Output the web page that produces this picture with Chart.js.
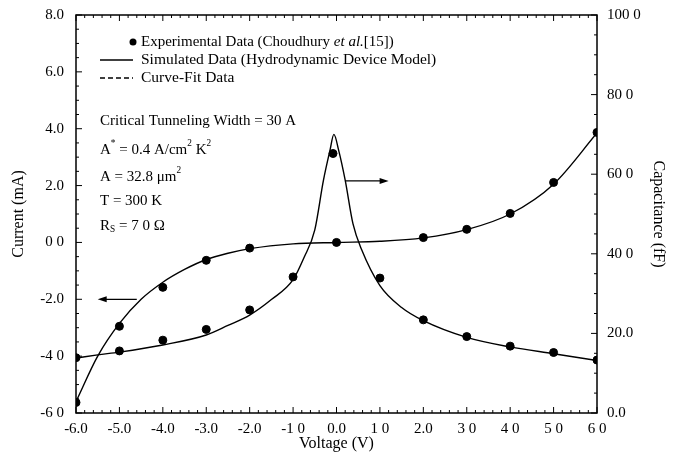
<!DOCTYPE html>
<html>
<head>
<meta charset="utf-8">
<script src="https://cdn.jsdelivr.net/npm/chart.js@4.4.0/dist/chart.umd.min.js"></script>
<style>
  body { margin: 0; background: #fff; }
  canvas { display: block; }
</style>
</head>
<body>
<canvas id="chart" width="674" height="455"></canvas>
<script>
// Experimental data (Choudhury et al.)
const expCurrentV = [-6, -5, -4, -3, -2, 0, 2, 3, 4, 5, 6];
const expCurrent = [-5.63, -2.95, -1.58, -0.63, -0.2, 0.0, 0.17, 0.46, 1.02, 2.11, 3.87];
const expCapV = [-6, -5, -4, -3, -2, -1, -0.08, 1, 2, 3, 4, 5, 6];
const expCap = [13.9, 15.6, 18.3, 21.0, 25.9, 34.2, 65.2, 33.9, 23.4, 19.2, 16.8, 15.2, 13.3];

// Simulated data (hydrodynamic device model)
const simCurrentV = [-6, -5.5, -5, -4.5, -4, -3.5, -3, -2.5, -2, -1, 0, 1, 2, 3, 4, 5, 6];
const simCurrent = [-5.6, -4.0, -2.85, -2.0, -1.4, -0.95, -0.6, -0.38, -0.22, -0.05, 0.0, 0.04, 0.16, 0.45, 1.0, 2.05, 3.85];
const simCapV = [-6, -5.5, -5, -4, -3, -2.5, -2, -1.5, -1, -0.75, -0.5, -0.3, -0.15, -0.06, 0.05, 0.2, 0.38, 0.58, 1, 1.5, 2, 3, 4, 5, 6];
const simCap = [13.8, 14.6, 15.3, 17.1, 19.6, 22.0, 24.6, 28.5, 33.5, 39.0, 46.0, 58.5, 66.0, 70.0, 66.0, 58.5, 47.5, 41.0, 32.0, 26.5, 23.2, 19.0, 16.6, 14.9, 13.2];

// Tick labels (as printed)
const xTickLabels = ['-6.0', '-5.0', '-4.0', '-3.0', '-2.0', '-1 0', '0.0', '1 0', '2.0', '3 0', '4 0', '5 0', '6 0'];
const currentTickLabels = ['-6 0', '-4 0', '-2.0', '0 0', '2.0', '4.0', '6.0', '8.0'];
const capTickLabels = ['0.0', '20.0', '40 0', '60 0', '80 0', '100 0'];

const SERIF = '"Liberation Serif", "DejaVu Serif", serif';

function pts(xs, ys) {
    return xs.map((x, i) => ({ x: x, y: ys[i] }));
}

// Draw a line of text made of runs (normal / sup / sub / italic)
function drawRuns(ctx, x, y, runs, size) {
    let cx = x;
    runs.forEach(r => {
        const s = (r.sup || r.sub) ? size * 0.62 : size;
        const dy = r.sup ? -size * 0.42 : (r.sub ? size * 0.22 : 0);
        ctx.font = (r.it ? 'italic ' : '') + s + 'px ' + SERIF;
        ctx.fillText(r.t, cx, y + dy);
        cx += ctx.measureText(r.t).width;
    });
    return cx;
}

// Inward ticks, frame, arrows, legend and notes
const decorPlugin = {
    id: 'decor',
    afterDraw(chart) {
        const ctx = chart.ctx;
        const a = chart.chartArea;
        const xs = chart.scales.x, yl = chart.scales.y, yr = chart.scales.y1;
        ctx.save();
        ctx.strokeStyle = '#000';
        ctx.fillStyle = '#000';
        ctx.lineWidth = 1.5;
        ctx.strokeRect(a.left, a.top, a.right - a.left, a.bottom - a.top);

        ctx.lineWidth = 1;
        ctx.beginPath();
        for (let i = 0; i <= 60; i++) {
            const v = -6 + i * 0.2;
            const px = xs.getPixelForValue(v);
            const len = i % 5 === 0 ? 6 : 3;
            ctx.moveTo(px, a.bottom); ctx.lineTo(px, a.bottom - len);
            ctx.moveTo(px, a.top); ctx.lineTo(px, a.top + len);
        }
        for (let i = 0; i <= 28; i++) {
            const v = -6 + i * 0.5;
            const py = yl.getPixelForValue(v);
            const len = i % 4 === 0 ? 6 : 3;
            ctx.moveTo(a.left, py); ctx.lineTo(a.left + len, py);
        }
        for (let i = 0; i <= 20; i++) {
            const v = i * 5;
            const py = yr.getPixelForValue(v);
            const len = i % 4 === 0 ? 6 : 3;
            ctx.moveTo(a.right, py); ctx.lineTo(a.right - len, py);
        }
        ctx.stroke();

        // arrows pointing to the matching axis
        function arrow(x1, x2, py) {
            const p1 = xs.getPixelForValue(x1), p2 = xs.getPixelForValue(x2);
            const dir = p2 > p1 ? 1 : -1;
            ctx.lineWidth = 1.3;
            ctx.beginPath();
            ctx.moveTo(p1, py); ctx.lineTo(p2 - dir * 6, py);
            ctx.stroke();
            ctx.beginPath();
            ctx.moveTo(p2, py);
            ctx.lineTo(p2 - dir * 9, py - 3);
            ctx.lineTo(p2 - dir * 9, py + 3);
            ctx.closePath();
            ctx.fill();
        }
        arrow(-4.6, -5.5, yl.getPixelForValue(-2.0));
        arrow(0.2, 1.2, yr.getPixelForValue(58.3));

        // legend
        ctx.textBaseline = 'middle';
        ctx.textAlign = 'left';
        const fs = 15.5;
        ctx.beginPath();
        ctx.arc(133, 42, 3.5, 0, Math.PI * 2);
        ctx.fill();
        drawRuns(ctx, 141, 42, [{ t: 'Experimental Data (Choudhury ' }, { t: 'et al.', it: true }, { t: '[15])' }], 15);
        ctx.lineWidth = 1.3;
        ctx.beginPath();
        ctx.moveTo(100, 60); ctx.lineTo(133, 60);
        ctx.stroke();
        drawRuns(ctx, 141, 60, [{ t: 'Simulated Data (Hydrodynamic Device Model)' }], fs);
        ctx.setLineDash([5, 3]);
        ctx.beginPath();
        ctx.moveTo(100, 78); ctx.lineTo(133, 78);
        ctx.stroke();
        ctx.setLineDash([]);
        drawRuns(ctx, 141, 78, [{ t: 'Curve-Fit Data' }], fs);

        // model parameters
        const ns = 15;
        drawRuns(ctx, 100, 121, [{ t: 'Critical Tunneling Width = 30 A' }], ns);
        drawRuns(ctx, 100, 150, [{ t: 'A' }, { t: '*', sup: true }, { t: ' = 0.4 A/cm' }, { t: '2', sup: true }, { t: ' K' }, { t: '2', sup: true }], ns);
        drawRuns(ctx, 100, 177, [{ t: 'A = 32.8 \u03bcm' }, { t: '2', sup: true }], ns);
        drawRuns(ctx, 100, 201, [{ t: 'T = 300 K' }], ns);
        drawRuns(ctx, 100, 226, [{ t: 'R' }, { t: 'S', sub: true }, { t: ' = 7 0 \u03a9' }], ns);
        ctx.restore();
    }
};

const tickFont = { family: SERIF, size: 15 };
const titleFont = { family: SERIF, size: 16 };

// fixed axis boxes so the plot area lands where it does in the figure
function fixVertical(width) {
    return s => {
        s.width = width;
        s.paddingTop = 0;
        s.paddingBottom = 0;
    };
}

new Chart(document.getElementById('chart').getContext('2d'), {
    type: 'scatter',
    data: {
        datasets: [
            {
                label: 'Simulated current',
                type: 'line',
                data: pts(simCurrentV, simCurrent),
                yAxisID: 'y',
                borderColor: '#000',
                borderWidth: 1.4,
                pointRadius: 0,
                fill: false,
                cubicInterpolationMode: 'monotone'
            },
            {
                label: 'Simulated capacitance',
                type: 'line',
                data: pts(simCapV, simCap),
                yAxisID: 'y1',
                borderColor: '#000',
                borderWidth: 1.4,
                pointRadius: 0,
                fill: false,
                cubicInterpolationMode: 'monotone'
            },
            {
                label: 'Experimental current',
                data: pts(expCurrentV, expCurrent),
                yAxisID: 'y',
                backgroundColor: '#000',
                borderColor: '#000',
                pointRadius: 4
            },
            {
                label: 'Experimental capacitance',
                data: pts(expCapV, expCap),
                yAxisID: 'y1',
                backgroundColor: '#000',
                borderColor: '#000',
                pointRadius: 4
            }
        ]
    },
    options: {
        responsive: false,
        animation: false,
        layout: { padding: { top: 15, left: 0, right: 0, bottom: 0 } },
        plugins: {
            legend: { display: false },
            tooltip: { enabled: false }
        },
        scales: {
            x: {
                type: 'linear',
                min: -6, max: 6,
                grid: { display: false, drawTicks: false },
                border: { display: false },
                ticks: {
                    stepSize: 1,
                    color: '#000',
                    font: tickFont,
                    padding: 7,
                    maxRotation: 0,
                    callback: v => xTickLabels[Math.round(v) + 6]
                },
                title: { display: true, text: 'Voltage (V)', color: '#000', font: titleFont, padding: { top: 0, bottom: 2 } },
                afterFit: s => {
                    s.height = 42;
                    s.paddingLeft = 0;
                    s.paddingRight = 0;
                }
            },
            y: {
                type: 'linear',
                position: 'left',
                min: -6, max: 8,
                grid: { display: false, drawTicks: false },
                border: { display: false },
                ticks: {
                    stepSize: 2,
                    color: '#000',
                    font: tickFont,
                    padding: 12,
                    callback: v => currentTickLabels[Math.round((v + 6) / 2)]
                },
                title: { display: true, text: 'Current (mA)', color: '#000', font: titleFont, padding: { top: 9, bottom: 0 } },
                afterFit: fixVertical(76)
            },
            y1: {
                type: 'linear',
                position: 'right',
                min: 0, max: 100,
                grid: { display: false, drawTicks: false },
                border: { display: false },
                ticks: {
                    stepSize: 20,
                    color: '#000',
                    font: tickFont,
                    padding: 10,
                    callback: v => capTickLabels[Math.round(v / 20)]
                },
                title: { display: true, text: 'Capacitance (fF)', color: '#000', font: titleFont, padding: { top: 6, bottom: 0 } },
                afterFit: fixVertical(77)
            }
        }
    },
    plugins: [decorPlugin]
});
</script>
</body>
</html>
